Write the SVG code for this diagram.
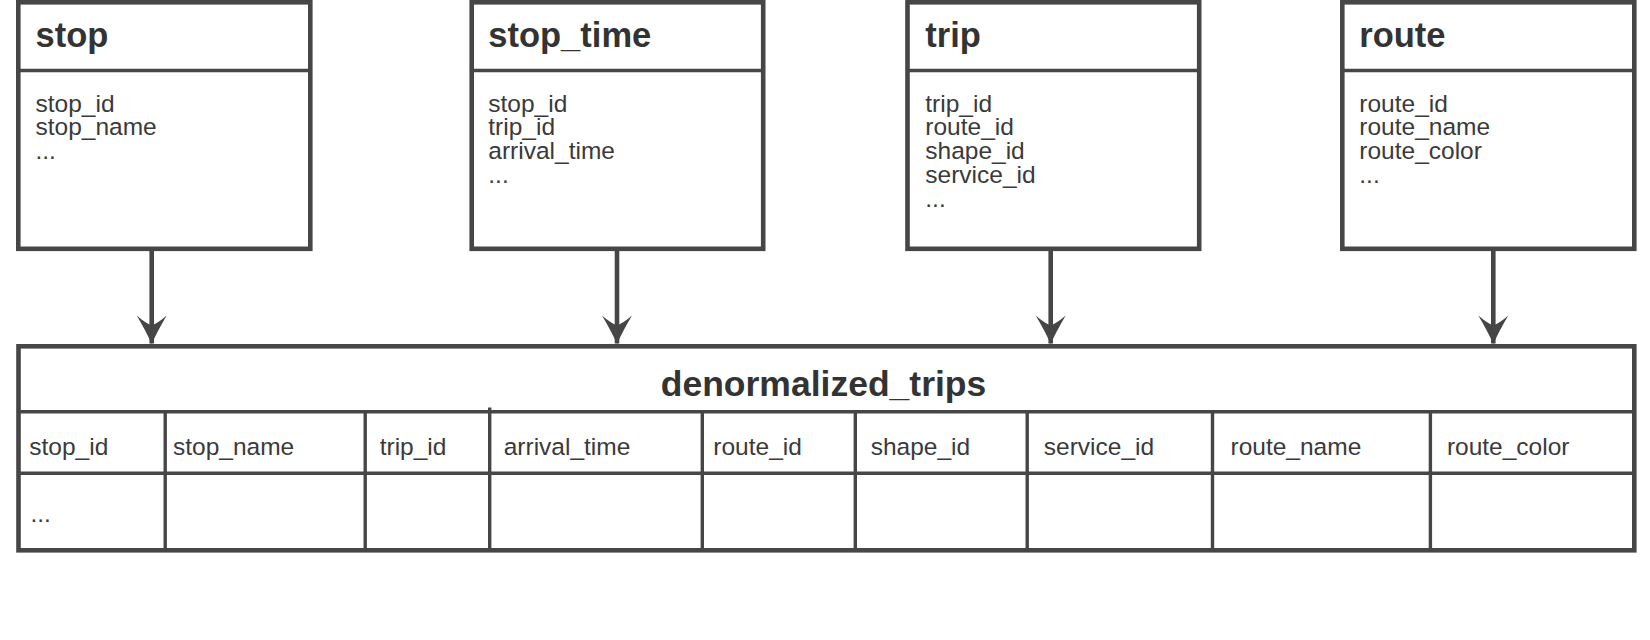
<svg xmlns="http://www.w3.org/2000/svg" width="1650" height="640" viewBox="0 0 1650 640">
  <style>
    .box { fill: #ffffff; stroke: #464646; stroke-width: 4.6; }
    .div { stroke: #464646; stroke-width: 3.4; fill: none; }
    .title { font-family: "Liberation Sans", Arial, sans-serif; font-weight: bold; font-size: 34.5px; fill: #333333; }
    .field { font-family: "Liberation Sans", Arial, sans-serif; font-size: 24.5px; fill: #3a3a3a; }
    .conn { stroke: #464646; stroke-width: 4.6; fill: none; }
  </style>
  <defs>
    <marker id="arrow" markerUnits="userSpaceOnUse" markerWidth="32" markerHeight="34" refX="29" refY="17" orient="auto" viewBox="0 0 32 34">
      <path d="M29.5,17 Q17,11.5 1,2 Q8,10 11,17 Q8,24 1,32 Q17,22.5 29.5,17 Z" fill="#464646"/>
    </marker>
  </defs>
  <rect width="1650" height="640" fill="#ffffff"/>

  <g id="stop">
    <rect class="box" x="18.3" y="2.3" width="292" height="246.5"/>
    <line class="div" x1="18.3" y1="70.5" x2="310.3" y2="70.5"/>
    <text class="title" x="35.5" y="46.5">stop</text>
    <text class="field" y="111.7"><tspan x="35.5">stop_id</tspan><tspan x="35.5" dy="23.7">stop_name</tspan><tspan x="35.5" dy="23.7">...</tspan></text>
  </g>

  <g id="stop_time">
    <rect class="box" x="471.7" y="2.3" width="291.5" height="246.5"/>
    <line class="div" x1="471.7" y1="70.5" x2="763.2" y2="70.5"/>
    <text class="title" x="488.3" y="46.5">stop_time</text>
    <text class="field" y="111.7"><tspan x="488.3">stop_id</tspan><tspan x="488.3" dy="23.7">trip_id</tspan><tspan x="488.3" dy="23.7">arrival_time</tspan><tspan x="488.3" dy="23.7">...</tspan></text>
  </g>

  <g id="trip">
    <rect class="box" x="907.5" y="2.3" width="291.7" height="246.5"/>
    <line class="div" x1="907.5" y1="70.5" x2="1199.2" y2="70.5"/>
    <text class="title" x="925.3" y="46.5">trip</text>
    <text class="field" y="111.7"><tspan x="925.3">trip_id</tspan><tspan x="925.3" dy="23.7">route_id</tspan><tspan x="925.3" dy="23.7">shape_id</tspan><tspan x="925.3" dy="23.7">service_id</tspan><tspan x="925.3" dy="23.7">...</tspan></text>
  </g>

  <g id="route">
    <rect class="box" x="1342.3" y="2.3" width="292" height="246.5"/>
    <line class="div" x1="1342.3" y1="70.5" x2="1634.3" y2="70.5"/>
    <text class="title" x="1359.3" y="46.5">route</text>
    <text class="field" y="111.7"><tspan x="1359.3">route_id</tspan><tspan x="1359.3" dy="23.7">route_name</tspan><tspan x="1359.3" dy="23.7">route_color</tspan><tspan x="1359.3" dy="23.7">...</tspan></text>
  </g>

  <g id="denormalized_trips">
    <rect class="box" x="18.5" y="346.3" width="1615.8" height="204"/>
    <line class="div" x1="18.5" y1="411.7" x2="1634.3" y2="411.7"/>
    <line class="div" x1="18.5" y1="473.3" x2="1634.3" y2="473.3"/>
    <line class="div" x1="165.2" y1="411.7" x2="165.2" y2="550.3"/>
    <line class="div" x1="365.2" y1="411.7" x2="365.2" y2="550.3"/>
    <line class="div" x1="489.7" y1="407.5" x2="489.7" y2="550.3"/>
    <line class="div" x1="702.3" y1="411.7" x2="702.3" y2="550.3"/>
    <line class="div" x1="855.3" y1="411.7" x2="855.3" y2="550.3"/>
    <line class="div" x1="1027.2" y1="411.7" x2="1027.2" y2="550.3"/>
    <line class="div" x1="1212.5" y1="411.7" x2="1212.5" y2="550.3"/>
    <line class="div" x1="1430.4" y1="411.7" x2="1430.4" y2="550.3"/>
    <text class="title" x="823.5" y="395.5" text-anchor="middle" style="font-size:35.5px">denormalized_trips</text>
    <text class="field" x="29.3" y="455">stop_id</text>
    <text class="field" x="173" y="455">stop_name</text>
    <text class="field" x="379.7" y="455">trip_id</text>
    <text class="field" x="503.7" y="455">arrival_time</text>
    <text class="field" x="713.3" y="455">route_id</text>
    <text class="field" x="870.7" y="455">shape_id</text>
    <text class="field" x="1043.8" y="455">service_id</text>
    <text class="field" x="1230.5" y="455">route_name</text>
    <text class="field" x="1446.9" y="455">route_color</text>
    <text class="field" x="30.5" y="522">...</text>
  </g>

  <g id="connectors">
    <line class="conn" x1="151.7" y1="251" x2="151.7" y2="343.5" marker-end="url(#arrow)"/>
    <line class="conn" x1="617" y1="251" x2="617" y2="343.5" marker-end="url(#arrow)"/>
    <line class="conn" x1="1050.7" y1="251" x2="1050.7" y2="343.5" marker-end="url(#arrow)"/>
    <line class="conn" x1="1493.3" y1="251" x2="1493.3" y2="343.5" marker-end="url(#arrow)"/>
  </g>
</svg>
